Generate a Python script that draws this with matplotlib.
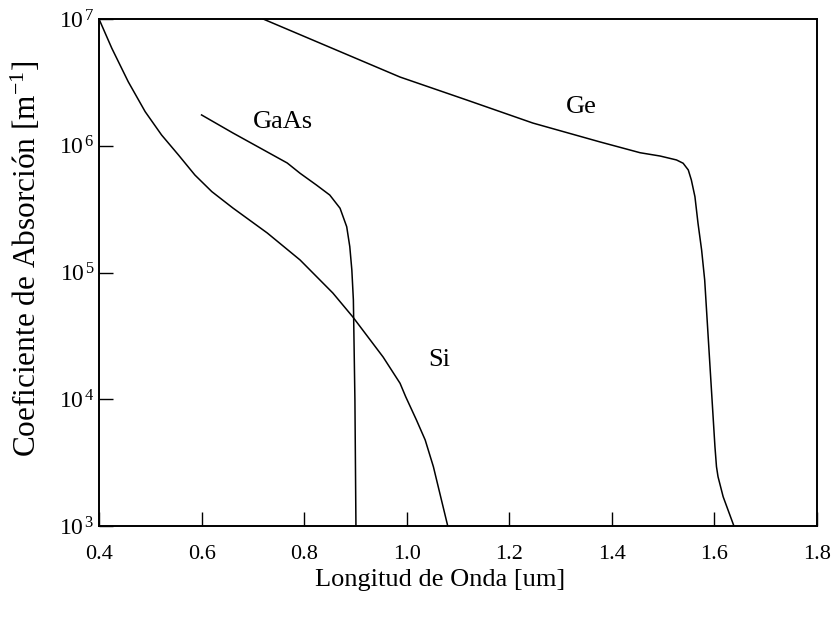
import math

import matplotlib
matplotlib.use("Agg")
import matplotlib.pyplot as plt
from matplotlib.ticker import FixedLocator, FuncFormatter, NullLocator

plt.rcParams["font.family"] = ["Liberation Serif", "DejaVu Serif"]
plt.rcParams["mathtext.fontset"] = "custom"
plt.rcParams["mathtext.rm"] = "Liberation Serif"
plt.rcParams["mathtext.it"] = "Liberation Serif:italic"

# wavelength [um] and log10 of absorption coefficient [1/m]
si_wl = [0.400, 0.425, 0.457, 0.490, 0.522, 0.555, 0.587, 0.620, 0.661, 0.728,
         0.792, 0.856, 0.895, 0.954, 0.987, 0.998, 1.019, 1.036, 1.052, 1.080]
si_log_alpha = [7.000, 6.769, 6.505, 6.269, 6.085, 5.927, 5.769, 5.638, 5.509, 5.312,
                5.099, 4.838, 4.649, 4.333, 4.126, 4.020, 3.836, 3.679, 3.468, 3.000]

gaas_wl = [0.600, 0.661, 0.767, 0.792, 0.824, 0.850, 0.870, 0.883, 0.889, 0.893,
           0.896, 0.899, 0.901]
gaas_log_alpha = [6.243, 6.101, 5.864, 5.783, 5.690, 5.611, 5.507, 5.361, 5.204, 5.020,
                  4.783, 3.994, 3.000]

ge_wl = [0.720, 0.987, 1.117, 1.246, 1.377, 1.455, 1.494, 1.526, 1.539, 1.549,
         1.555, 1.562, 1.568, 1.575, 1.581, 1.591, 1.601, 1.604, 1.607, 1.617, 1.638]
ge_log_alpha = [7.000, 6.542, 6.361, 6.179, 6.030, 5.945, 5.919, 5.888, 5.862, 5.809,
                5.730, 5.598, 5.388, 5.178, 4.941, 4.283, 3.626, 3.468, 3.389, 3.231, 3.000]

labels = ["GaAs", "Ge", "Si"]
label_x = [0.759, 1.340, 1.064]
label_log_y = [6.187, 6.305, 4.309]

x_ticks = [0.4, 0.6, 0.8, 1.0, 1.2, 1.4, 1.6, 1.8]
y_ticks = [1e3, 1e4, 1e5, 1e6, 1e7]

fig = plt.figure(figsize=(8.34, 6.18), dpi=100)
ax = fig.add_axes([99 / 834, 1 - 526 / 618, 718 / 834, 507 / 618])

for wl, la in [(si_wl, si_log_alpha), (gaas_wl, gaas_log_alpha), (ge_wl, ge_log_alpha)]:
    ax.plot(wl, [10 ** v for v in la], color="black", linewidth=1.1,
            solid_joinstyle="round")

for name, lx, ly in zip(labels, label_x, label_log_y):
    ax.text(lx, 10 ** ly, name, ha="center", va="center", fontsize=19)

ax.set_yscale("log")
ax.set_xlim(0.4, 1.8)
ax.set_ylim(1e3, 1e7)

ax.xaxis.set_major_locator(FixedLocator(x_ticks))
ax.xaxis.set_minor_locator(NullLocator())
ax.xaxis.set_major_formatter(FuncFormatter(lambda v, p: f"{v:.1f}"))
ax.yaxis.set_major_locator(FixedLocator(y_ticks))
ax.yaxis.set_minor_locator(NullLocator())
ax.yaxis.set_major_formatter(FuncFormatter(lambda v, p: r"$10^{\,%d}$" % round(math.log10(v))))

ax.tick_params(axis="x", direction="in", length=10, width=1.0, pad=14, labelsize=16)
ax.tick_params(axis="y", direction="in", length=10, width=1.0, pad=3, labelsize=17)
for s in ax.spines.values():
    s.set_linewidth(1.4)

ax.set_xlabel("Longitud de Onda [um]", fontsize=19)
ax.xaxis.set_label_coords(0.475, -0.085)
ax.set_ylabel("Coeficiente de Absorción [m$^{-1}$]", fontsize=22.5)
ax.yaxis.set_label_coords(-0.078, 0.527)

fig.savefig("out.png", dpi=100)
